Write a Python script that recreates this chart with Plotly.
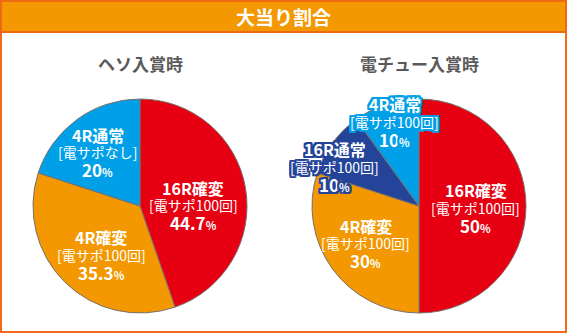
import math
import plotly.graph_objects as go

W, H = 567, 333

# --- data -------------------------------------------------------------
title = "大当り割合"

left_title = "ヘソ入賞時"
left_names = ["16R確変", "4R確変", "4R通常"]
left_notes = ["[電サポ100回]", "[電サポ100回]", "[電サポなし]"]
left_values = [44.7, 35.3, 20]

right_title = "電チュー入賞時"
right_names = ["16R確変", "4R確変", "16R通常", "4R通常"]
right_notes = ["[電サポ100回]", "[電サポ100回]", "[電サポ100回]", "[電サポ100回]"]
right_values = [50, 30, 10, 10]

# --- style ------------------------------------------------------------
RED, ORANGE, NAVY, SKY = "#E60012", "#F39800", "#24449A", "#00A0E9"
left_colors = [RED, ORANGE, SKY]
right_colors = [RED, ORANGE, NAVY, SKY]

FONT = "Noto Sans CJK JP"
RADIUS = 107
LINE_GAP = 17.5
left_center = (140, 206)
right_center = (419, 206)

# label placement: fraction of radius, angular nudge (deg), halo colour
left_label_r = [0.50, 0.58, 0.64]
left_label_shift = [9, -6, -2]
left_halo = [None, None, None]
right_label_r = [0.53, 0.61, 0.87, 0.82]
right_label_shift = [2, 1, -11, 2]
right_halo = [None, None, NAVY, SKY]


def domain(center):
    cx, cy = center
    return dict(
        x=[(cx - RADIUS) / W, (cx + RADIUS) / W],
        y=[(H - cy - RADIUS) / H, (H - cy + RADIUS) / H],
    )


def halo_css(c):
    offs = [(-2, -2), (0, -2), (2, -2), (-2, 0), (2, 0), (-2, 2), (0, 2), (2, 2),
            (-1, -2), (1, -2), (-1, 2), (1, 2), (-2, -1), (-2, 1), (2, -1), (2, 1)]
    return ", ".join(f"{dx}px {dy}px 0 {c}" for dx, dy in offs)


def text_at(x, y, text, size, halo=None, bold=False):
    font = dict(family=FONT, size=size, color="white")
    if bold:
        font["weight"] = "bold"
    if halo:
        font["shadow"] = halo_css(halo)
    return dict(
        x=x / W, y=1 - y / H, xref="paper", yref="paper", text=text,
        showarrow=False, font=font, xanchor="center", yanchor="middle",
    )


def pie_labels(center, names, notes, values, radii, shifts, halos):
    cx, cy = center
    total = sum(values)
    anns = []
    acc = 0.0
    for name, note, v, rf, sh, halo in zip(names, notes, values, radii, shifts, halos):
        mid = (acc + v / 2) / total * 360 + sh
        acc += v
        a = math.radians(mid)
        x = cx + math.sin(a) * rf * RADIUS
        y = cy - math.cos(a) * rf * RADIUS
        pct = f"{v:g}<span style='font-size:11px'>%</span>"
        anns.append(text_at(x, y - LINE_GAP, name, 16, halo, bold=True))
        anns.append(text_at(x, y, note, 14, halo))
        anns.append(text_at(x, y + LINE_GAP, pct, 17, halo, bold=True))
    return anns


def pie(center, names, values, colors):
    return go.Pie(
        labels=names, values=values, sort=False, direction="clockwise",
        rotation=0, textinfo="none", hoverinfo="label+percent",
        marker=dict(colors=colors, line=dict(color="#7a6f6a", width=1)),
        domain=domain(center), showlegend=False,
    )


fig = go.Figure()
fig.add_trace(pie(left_center, left_names, left_values, left_colors))
fig.add_trace(pie(right_center, right_names, right_values, right_colors))

annotations = []
annotations += pie_labels(left_center, left_names, left_notes, left_values,
                          left_label_r, left_label_shift, left_halo)
annotations += pie_labels(right_center, right_names, right_notes, right_values,
                          right_label_r, right_label_shift, right_halo)

# header title and sub-titles
annotations.append(dict(
    x=0.5, y=1 - 16 / H, xref="paper", yref="paper", text=title,
    showarrow=False, font=dict(family=FONT, size=19, color="white", weight="bold"),
    xanchor="center", yanchor="middle",
))
for ttl, c in ((left_title, left_center), (right_title, right_center)):
    annotations.append(dict(
        x=c[0] / W, y=1 - 63 / H, xref="paper", yref="paper", text=ttl,
        showarrow=False, font=dict(family=FONT, size=17, color="#5a5a5a", weight=700),
        xanchor="center", yanchor="middle",
    ))

shapes = [
    # outer frame
    dict(type="rect", xref="paper", yref="paper", x0=1 / W, x1=1 - 1 / W,
         y0=1 / H, y1=1 - 1 / H, line=dict(color="#F26B1D", width=2),
         fillcolor="white", layer="below"),
    # header band
    dict(type="rect", xref="paper", yref="paper", x0=1 / W, x1=1 - 1 / W,
         y0=1 - 32 / H, y1=1 - 1 / H, line=dict(color="#EE6A12", width=2),
         fillcolor=ORANGE, layer="below"),
]

fig.update_layout(
    width=W, height=H, margin=dict(l=0, r=0, t=0, b=0),
    paper_bgcolor="white", plot_bgcolor="white",
    annotations=annotations, shapes=shapes,
)

fig.write_html("out.html", config={"displayModeBar": False})
